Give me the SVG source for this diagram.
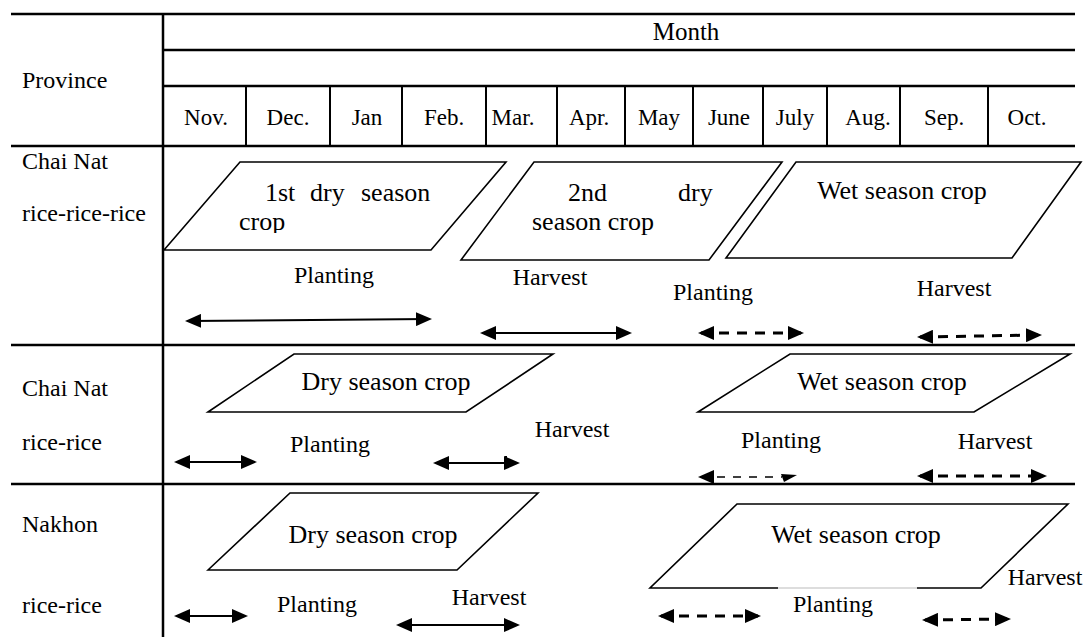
<svg xmlns="http://www.w3.org/2000/svg" width="1087" height="637" viewBox="0 0 1087 637" font-family="'Liberation Serif', 'DejaVu Serif', serif">
<defs>
<marker id="ah" viewBox="0 0 16 14" refX="13" refY="7" markerWidth="16" markerHeight="14" markerUnits="userSpaceOnUse" orient="auto-start-reverse"><path d="M0,0 L16,7 L0,14 z" fill="#000"/></marker>
<clipPath id="cropclip"><rect x="230" y="212" width="80" height="21"/></clipPath>
</defs>
<style>
text{font-family:'Liberation Serif','DejaVu Serif',serif;fill:#000}
.lbl{font-size:24px}
.mon{font-size:23px;text-anchor:middle}
.crop{font-size:26px;text-anchor:middle}
.big{font-size:26px}
.act{font-size:24px;text-anchor:middle}
.tl{stroke:#000;stroke-width:2.5;fill:none}
.cl{stroke:#000;stroke-width:2;fill:none}
.pg{stroke:#000;stroke-width:1.6;fill:none;stroke-linejoin:miter}
.sa{stroke:#000;stroke-width:2;fill:none;marker-start:url(#ah);marker-end:url(#ah)}
.da{stroke:#000;stroke-width:3;fill:none;stroke-dasharray:10 8;marker-start:url(#ah);marker-end:url(#ah)}
</style>
<rect width="1087" height="637" fill="#fff"/>
<g id="table">
<line class="tl" x1="11" y1="14" x2="1075" y2="14"/>
<line class="tl" x1="163" y1="50" x2="1075" y2="50"/>
<line class="tl" x1="163" y1="86" x2="1075" y2="86"/>
<line class="tl" x1="11" y1="146" x2="1075" y2="146"/>
<line class="tl" x1="11" y1="345" x2="1075" y2="345"/>
<line class="tl" x1="11" y1="484" x2="1075" y2="484"/>
<line class="tl" x1="163" y1="14" x2="163" y2="637"/>
<g class="cl">
<line x1="246" y1="86" x2="246" y2="146"/>
<line x1="330" y1="86" x2="330" y2="146"/>
<line x1="402" y1="86" x2="402" y2="146"/>
<line x1="486" y1="86" x2="486" y2="146"/>
<line x1="557" y1="86" x2="557" y2="146"/>
<line x1="625" y1="86" x2="625" y2="146"/>
<line x1="693" y1="86" x2="693" y2="146"/>
<line x1="763" y1="86" x2="763" y2="146"/>
<line x1="827" y1="86" x2="827" y2="146"/>
<line x1="900" y1="86" x2="900" y2="146"/>
<line x1="988" y1="86" x2="988" y2="146"/>
</g>
<text x="686" y="40" font-size="25" text-anchor="middle">Month</text>
<text class="lbl" x="22" y="88">Province</text>
<text class="mon" x="206" y="125">Nov.</text>
<text class="mon" x="288" y="125">Dec.</text>
<text class="mon" x="367" y="125">Jan</text>
<text class="mon" x="444" y="125">Feb.</text>
<text class="mon" x="513" y="125">Mar.</text>
<text class="mon" x="589" y="125">Apr.</text>
<text class="mon" x="659" y="125">May</text>
<text class="mon" x="729" y="125">June</text>
<text class="mon" x="795" y="125">July</text>
<text class="mon" x="868" y="125">Aug.</text>
<text class="mon" x="944" y="125">Sep.</text>
<text class="mon" x="1027" y="125">Oct.</text>
</g>
<g id="row1-label">
<text class="lbl" x="22" y="169">Chai Nat</text>
<text class="lbl" x="22" y="221">rice-rice-rice</text>
</g>
<g id="row1-dry1">
<polygon class="pg" points="164,250 240,162 506,162 431,250"/>
<text class="big" x="265" y="201">1st</text>
<text class="big" x="310" y="201">dry</text>
<text class="big" x="361" y="201">season</text>
<text class="big" x="239" y="230" clip-path="url(#cropclip)">crop</text>
</g>
<g id="row1-dry2">
<polygon class="pg" points="461,260 534,162 782,162 709,260"/>
<text class="big" x="568" y="201">2nd</text>
<text class="big" x="678" y="201">dry</text>
<text class="big" x="532" y="230">season crop</text>
</g>
<g id="row1-wet">
<polygon class="pg" points="726,258 796,162 1081,162 1012,258"/>
<text class="crop" x="902" y="199">Wet season crop</text>
</g>
<g id="row1-acts">
<text class="act" x="334" y="283">Planting</text>
<text class="act" x="550" y="285">Harvest</text>
<text class="act" x="713" y="300">Planting</text>
<text class="act" x="954" y="296">Harvest</text>
</g>
<g id="row2-label">
<text class="lbl" x="22" y="396">Chai Nat</text>
<text class="lbl" x="22" y="450">rice-rice</text>
</g>
<g id="row2-dry">
<polygon class="pg" points="208,412 294,354 553,354 466,412"/>
<text class="crop" x="386" y="390">Dry season crop</text>
</g>
<g id="row2-wet">
<polygon class="pg" points="698,412 790,354 1070,354 974,412"/>
<text class="crop" x="882" y="390">Wet season crop</text>
</g>
<g id="row2-acts">
<text class="act" x="330" y="452">Planting</text>
<text class="act" x="572" y="437">Harvest</text>
<text class="act" x="781" y="448">Planting</text>
<text class="act" x="995" y="449">Harvest</text>
</g>
<g id="row3-label">
<text class="lbl" x="22" y="532">Nakhon</text>
<text class="lbl" x="22" y="613">rice-rice</text>
</g>
<g id="row3-dry">
<polygon class="pg" points="208,570 290,493 538,493 457,570"/>
<text class="crop" x="373" y="543">Dry season crop</text>
</g>
<g id="row3-wet">
<polyline class="pg" points="778,588 650,588 737,504 1068,504 981,588 917,588"/>
<line x1="778" y1="588" x2="917" y2="588" stroke="#bbb" stroke-width="1"/>
<text class="crop" x="856" y="543">Wet season crop</text>
</g>
<g id="row3-acts">
<text class="act" x="317" y="612">Planting</text>
<text class="act" x="489" y="605">Harvest</text>
<text class="act" x="833" y="612">Planting</text>
<text class="act" x="1045" y="585">Harvest</text>
</g>
<g id="connectors">
<line class="sa" x1="188" y1="321" x2="429" y2="319"/>
<line class="sa" x1="483" y1="333" x2="629" y2="333"/>
<line class="da" x1="701" y1="333" x2="801" y2="333"/>
<line class="da" x1="920" y1="337" x2="1039" y2="335"/>
<line class="sa" x1="177" y1="462" x2="254" y2="462"/>
<line class="sa" x1="436" y1="463" x2="517" y2="463"/>
<line x1="506" y1="456" x2="506" y2="468" stroke="#000" stroke-width="2"/>
<line x1="701" y1="477" x2="782" y2="477" stroke="#000" stroke-width="1.5" stroke-dasharray="8 8" marker-start="url(#ah)"/>
<polygon points="781,474 797,475 784,482" fill="#000"/>
<line class="da" x1="920" y1="476" x2="1044" y2="476"/>
<line class="sa" x1="177" y1="616" x2="245" y2="616"/>
<line class="sa" x1="399" y1="625" x2="517" y2="625"/>
<line class="da" x1="661" y1="616" x2="758" y2="616"/>
<line class="da" x1="925" y1="620" x2="1008" y2="619"/>
</g>
</svg>
